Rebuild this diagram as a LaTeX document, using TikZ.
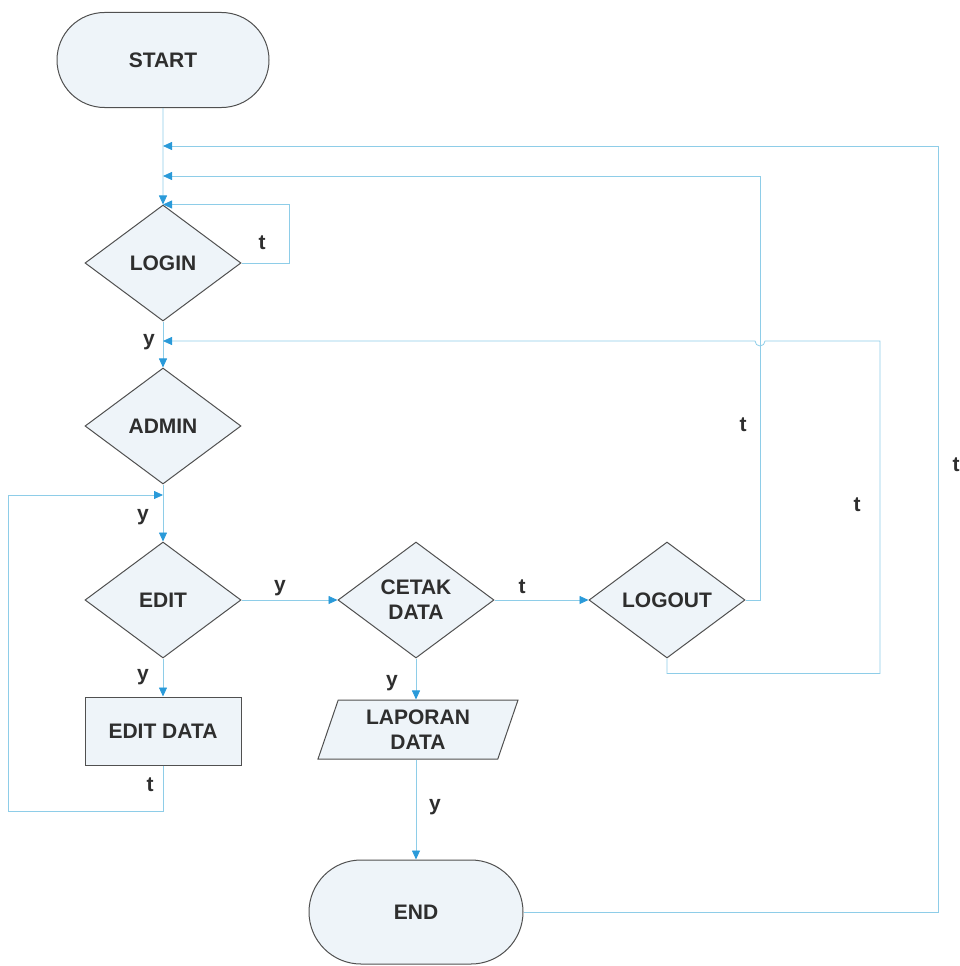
\documentclass[tikz,border=0pt]{standalone}
\usepackage{fontspec}
\setmainfont{Liberation Sans}
\usetikzlibrary{shapes.geometric,shapes.misc,arrows.meta}
\definecolor{fillc}{HTML}{EEF4F9}
\definecolor{edgec}{HTML}{505050}
\definecolor{linec}{HTML}{8ECDE8}
\definecolor{tipc}{HTML}{2A9AD9}
\definecolor{txtc}{HTML}{2E2E2E}
\begin{document}
\begin{tikzpicture}[x=1pt,y=-1pt,
  every node/.style={font=\fontsize{21}{25}\selectfont\bfseries, text=txtc},
  base/.style={draw=edgec, fill=fillc, line width=1pt, inner sep=0pt, align=center},
  term/.style={base, rounded rectangle},
  dec/.style={base, diamond, minimum width=156pt, minimum height=116pt, aspect=1.34},
  proc/.style={base, rectangle, minimum width=156pt, minimum height=68pt},
  io/.style={base, trapezium, trapezium left angle=63, trapezium right angle=117,
             trapezium stretches body, minimum width=200pt, minimum height=59pt},
  conn/.style={draw=linec, line width=0.8pt, -{Triangle[length=9pt,width=8pt,color=tipc,fill=tipc]}},
  lbl/.style={inner sep=0pt}]
\useasboundingbox (0,0) rectangle (959,966);

% nodes
\node[term, minimum width=212pt, minimum height=95pt] (start) at (163,60) {START};
\node[dec] (login) at (163,263) {LOGIN};
\node[dec] (admin) at (163,426) {ADMIN};
\node[dec] (edit) at (163,600) {EDIT};
\node[proc] (editdata) at (163,731) {EDIT DATA};
\node[dec] (cetak) at (416,600) {CETAK\\DATA};
\node[dec] (logout) at (667,600) {LOGOUT};
\node[io] (laporan) at (418,729.5) {LAPORAN\\DATA};
\node[term, minimum width=214pt, minimum height=104pt] (end) at (416,912) {END};

% junctions on the main line
\coordinate (jA) at (163,146);
\coordinate (jB) at (163,176);
\coordinate (jC) at (163,341);
\coordinate (jD) at (163,495);

% connectors
\draw[conn] (start) -- (login);
\draw[conn] (login.east) -- ++(48,0) |- (login.north);
\draw[conn] (login) -- (admin);
\draw[conn] (admin) -- (edit);
\draw[conn] (edit) -- (cetak);
\draw[conn] (edit) -- (editdata);
\draw[conn] (editdata.south) -- ++(0,46) -| (8,495) -- (jD);
\draw[conn] (cetak) -- (logout);
\draw[conn] (cetak.south) -- (cetak.south |- laporan.north);
\draw[conn] (end.north |- laporan.south) -- (end.north);
\draw[conn] (logout.east) -- ++(15,0) |- (jB);
\draw[conn] (logout.south) -- ++(0,15) -| (880,341) -- (765,341)
   arc[start angle=0, end angle=-180, radius=5pt] -- (jC);
\draw[conn] (end.east) -- ++(415,0) |- (jA);

% labels
\node[lbl] (l1) at (262,243) {t};
\node[lbl] (l2) at (149,342) {y};
\node[lbl] (l3) at (143,517) {y};
\node[lbl] (l4) at (280,588) {y};
\node[lbl] (l5) at (143,677) {y};
\node[lbl] (l6) at (150,785) {t};
\node[lbl] (l7) at (522,587) {t};
\node[lbl] (l8) at (392,683) {y};
\node[lbl] (l9) at (435,807) {y};
\node[lbl] (l10) at (743,425) {t};
\node[lbl] (l11) at (857,505) {t};
\node[lbl] (l12) at (956,465) {t};
\end{tikzpicture}
\end{document}
